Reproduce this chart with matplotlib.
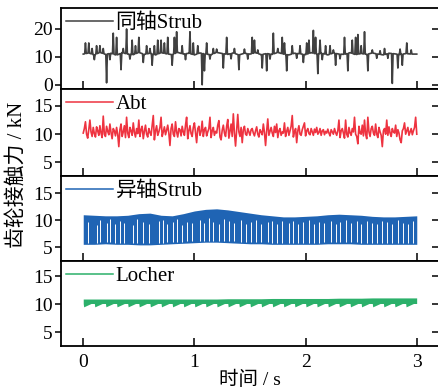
import numpy as np
import matplotlib
matplotlib.use('Agg')
import matplotlib.pyplot as plt
from matplotlib.lines import Line2D

plt.rcParams['font.family'] = ['Liberation Serif', 'Noto Sans CJK SC']
plt.rcParams['axes.unicode_minus'] = False

# ---------------- data ----------------
series_names = ['同轴Strub', 'Abt', '异轴Strub', 'Locher']
x_ticks = [0, 1, 2, 3]
x_label = '时间 / s'
y_label = '齿轮接触力 / kN'

# 同轴Strub: slow baseline (0.05 s step) plus isolated impact spikes
coax_base_t = np.round(np.arange(0, 61) * 0.05, 2)
coax_base = [
    11.0, 11.4, 10.7, 11.6, 10.9, 11.3, 10.6, 11.5, 11.0, 10.8,
    11.6, 10.9, 11.3, 10.7, 11.5, 11.1, 10.8, 11.6, 11.0, 11.3,
    10.7, 11.4, 11.0, 10.8, 11.6, 11.2, 10.9, 11.4, 10.7, 11.3,
    11.0, 11.5, 10.8, 11.2, 10.9, 11.6, 11.0, 10.7, 11.3, 11.1,
    10.8, 11.5, 11.0, 11.3, 10.7, 11.4, 11.0, 10.9, 11.5, 10.8,
    11.2, 10.9, 11.4, 11.0, 10.7, 11.3, 11.1, 10.8, 11.2, 11.0,
    11.0,
]
coax_spike_t = [
    0.02, 0.05, 0.08, 0.10, 0.12, 0.15, 0.18, 0.21, 0.24, 0.27,
    0.30, 0.34, 0.36, 0.39, 0.42, 0.44, 0.47, 0.50, 0.54, 0.57,
    0.60, 0.62, 0.64, 0.67, 0.70, 0.73, 0.76, 0.80, 0.82, 0.84,
    0.89, 0.92, 0.96, 0.99, 1.03, 1.07, 1.09, 1.11, 1.14, 1.17,
    1.20, 1.26, 1.29, 1.33, 1.36, 1.40, 1.45, 1.48, 1.52, 1.54,
    1.57, 1.61, 1.65, 1.68, 1.71, 1.75, 1.79, 1.81, 1.83, 1.88,
    1.92, 1.95, 1.98, 2.01, 2.03, 2.07, 2.09, 2.11, 2.13, 2.15,
    2.18, 2.22, 2.25, 2.27, 2.31, 2.35, 2.38, 2.42, 2.45, 2.47,
    2.50, 2.53, 2.56, 2.60, 2.64, 2.67, 2.71, 2.74, 2.78, 2.83,
    2.85, 2.87, 2.91, 2.95,
]
coax_spike_v = [
    15.0, 15.0, 13.0, 9.0, 14.0, 14.0, 13.0, 0.7, 9.0, 18.5,
    17.0, 5.4, 13.0, 20.0, 9.2, 16.0, 14.0, 17.0, 8.0, 14.0,
    13.0, 7.0, 14.0, 16.0, 16.0, 15.0, 17.0, 7.0, 17.0, 19.0,
    14.0, 9.0, 19.0, 15.0, 14.0, 0.0, 5.0, 15.0, 9.2, 13.0,
    12.8, 6.0, 17.0, 9.3, 13.0, 5.4, 12.8, 9.2, 17.0, 16.0,
    12.5, 6.0, 5.0, 9.2, 18.5, 13.0, 17.0, 15.0, 5.0, 14.0,
    9.5, 14.0, 8.0, 15.0, 16.0, 19.5, 17.0, 4.0, 16.0, 9.0,
    14.0, 14.0, 12.5, 7.0, 9.3, 17.0, 5.0, 16.0, 17.0, 18.0,
    14.0, 19.0, 5.0, 12.5, 9.5, 12.2, 13.0, 9.5, 0.5, 6.0,
    12.8, 7.0, 15.0, 12.5,
]

# Abt: 0.01 s samples
abt_t = np.round(np.arange(0, 301) * 0.01, 2)
abt = [
    10.2, 11.0, 12.2, 10.0, 9.3, 10.8, 12.5, 10.4, 9.6, 11.2,
    10.1, 9.5, 11.3, 10.6, 9.8, 11.5, 10.2, 9.4, 13.2, 10.0,
    9.6, 11.4, 10.5, 9.9, 11.8, 10.3, 9.2, 11.0, 10.6, 9.7,
    11.2, 10.0, 7.8, 10.8, 11.8, 9.6, 10.4, 11.5, 9.4, 13.0,
    10.2, 9.4, 11.2, 10.6, 9.8, 12.0, 10.3, 9.5, 11.0, 10.1,
    12.5, 9.6, 10.8, 11.4, 9.2, 10.5, 11.6, 10.0, 9.5, 11.0,
    10.3, 9.8, 11.5, 13.3, 9.0, 10.6, 11.5, 9.8, 10.4, 11.2,
    13.0, 9.6, 10.4, 11.3, 9.9, 10.7, 11.6, 10.2, 8.0, 11.0,
    11.8, 10.0, 9.6, 12.2, 10.4, 9.5, 11.0, 10.8, 9.7, 11.4,
    10.4, 9.8, 11.6, 13.0, 9.2, 10.6, 11.5, 10.1, 9.6, 11.2,
    12.0, 10.3, 8.5, 11.0, 11.4, 9.8, 10.5, 12.3, 9.6, 10.8,
    11.2, 9.7, 10.4, 11.0, 13.0, 9.4, 10.6, 11.2, 9.8, 10.5,
    10.2, 11.6, 12.4, 9.5, 9.0, 10.7, 11.6, 10.2, 9.6, 11.4,
    12.6, 9.3, 10.5, 11.8, 9.6, 13.6, 10.2, 7.9, 10.8, 13.5,
    10.4, 9.6, 11.2, 8.5, 10.8, 11.4, 10.0, 9.8, 11.0, 10.4,
    9.8, 10.8, 11.0, 10.2, 9.7, 10.6, 11.3, 10.0, 9.5, 10.8,
    10.4, 9.9, 11.8, 10.3, 8.0, 10.6, 12.7, 9.8, 10.5, 11.2,
    10.2, 9.6, 11.4, 10.3, 11.8, 9.4, 10.6, 11.0, 9.8, 10.4,
    10.2, 12.0, 9.6, 10.5, 11.2, 9.8, 10.6, 11.4, 13.3, 9.5,
    10.4, 11.0, 8.5, 10.6, 11.5, 10.0, 9.8, 10.8, 11.4, 12.0,
    9.7, 10.6, 11.0, 10.1, 9.9, 11.0, 10.4, 9.8, 10.9, 10.3,
    11.2, 10.0, 10.3, 11.0, 9.8, 10.6, 10.8, 9.9, 10.5, 10.2,
    10.9, 10.2, 9.7, 10.8, 10.4, 10.0, 11.0, 10.3, 9.8, 10.6,
    12.5, 9.4, 10.6, 11.0, 10.2, 9.3, 12.5, 10.0, 9.5, 11.2,
    10.2, 9.8, 11.0, 10.4, 13.0, 10.0, 9.6, 8.3, 11.4, 10.2,
    10.0, 11.6, 9.7, 12.5, 10.0, 9.2, 13.0, 10.4, 9.6, 11.0,
    11.4, 10.2, 9.8, 11.8, 10.0, 9.4, 11.2, 10.4, 9.8, 7.8,
    10.6, 11.0, 10.0, 12.5, 9.8, 11.3, 10.2, 9.6, 11.0, 10.4,
    10.2, 11.6, 9.6, 10.8, 10.2, 9.0, 8.5, 10.6, 11.0, 12.0,
    10.0, 10.6, 11.2, 9.8, 10.4, 11.0, 9.9, 10.6, 11.2, 13.0,
    10.0,
]

# 异轴Strub: envelope of the dense mesh oscillation (0.1 s step)
strub_off_t = [0.0, 0.1, 0.2, 0.3, 0.4, 0.5, 0.6, 0.7, 0.8, 0.9, 1.0,
               1.1, 1.2, 1.3, 1.4, 1.5, 1.6, 1.7, 1.8, 1.9, 2.0,
               2.1, 2.2, 2.3, 2.4, 2.5, 2.6, 2.7, 2.8, 2.9, 3.0]
strub_off_high = [11.0, 10.9, 10.8, 10.8, 10.9, 11.2, 11.3, 10.9, 10.8, 11.2, 11.7,
                  12.0, 12.1, 11.9, 11.6, 11.3, 11.0, 10.8, 10.6, 10.6, 10.7,
                  10.8, 11.0, 11.1, 11.0, 10.9, 10.7, 10.6, 10.6, 10.7, 10.8]
strub_off_low = [5.5, 5.5, 5.6, 5.5, 5.5, 5.4, 5.4, 5.5, 5.6, 5.7, 5.8,
                 5.9, 5.9, 5.8, 5.7, 5.6, 5.6, 5.5, 5.5, 5.5, 5.5,
                 5.5, 5.6, 5.6, 5.6, 5.5, 5.5, 5.5, 5.5, 5.5, 5.5]
# instants where the oscillation stays high (white streaks in the band)
strub_off_gap_t = [0.04, 0.12, 0.15, 0.21, 0.24, 0.29, 0.33, 0.37, 0.45, 0.48,
                   0.54, 0.59, 0.68, 0.72, 0.75, 0.81, 0.84, 0.89, 0.93, 0.98,
                   1.05, 1.09, 1.13, 1.17, 1.22, 1.27, 1.31, 1.36, 1.42, 1.46,
                   1.51, 1.55, 1.60, 1.66, 1.70, 1.74, 1.79, 1.85, 1.89, 1.93,
                   1.98, 2.03, 2.08, 2.12, 2.17, 2.23, 2.27, 2.31, 2.36, 2.41,
                   2.46, 2.50, 2.55, 2.60, 2.64, 2.69, 2.73, 2.78, 2.83, 2.88,
                   2.92, 2.97]
strub_off_gap_top = [9.6, 9.0, 10.0, 9.4, 10.2, 9.2, 9.8, 9.5, 9.0, 10.3,
                     9.6, 9.2, 9.8, 10.0, 9.3, 9.6, 10.2, 9.0, 9.7, 9.4,
                     10.0, 9.5, 10.4, 9.6, 9.2, 10.2, 9.8, 9.4, 10.0, 9.3,
                     9.7, 10.1, 9.2, 9.6, 9.9, 9.3, 9.8, 9.4, 9.9, 9.2,
                     9.6, 10.0, 9.3, 9.7, 9.5, 9.9, 9.2, 9.6, 10.0, 9.4,
                     9.8, 9.3, 9.9, 9.5, 9.2, 9.8, 9.6, 9.3, 10.0, 9.5,
                     9.2, 9.8]

# Locher: saw-tooth load, one tooth every ~0.1 s
locher_tooth_t = [0.0, 0.1, 0.2, 0.3, 0.4, 0.5, 0.6, 0.7, 0.8, 0.9,
                  1.0, 1.1, 1.2, 1.3, 1.4, 1.5, 1.6, 1.7, 1.8, 1.9,
                  2.0, 2.1, 2.2, 2.3, 2.4, 2.5, 2.6, 2.7, 2.8, 2.9, 3.0]
locher_high = [10.9, 10.9, 10.9, 10.9, 10.9, 10.9, 10.9, 10.9, 10.9, 10.9,
               10.9, 10.9, 10.9, 10.95, 10.95, 10.95, 10.95, 11.0, 11.0, 11.0,
               11.0, 11.0, 11.0, 11.05, 11.05, 11.05, 11.1, 11.1, 11.1, 11.1, 11.1]
locher_band_low = [10.1] * 31
locher_notch = [9.5] * 31
locher_ramp = 0.07

colors = ['#404040', '#ee3340', '#1f64b4', '#2bb06a']

# ---------------- figure ----------------
W, H = 438, 392
fig = plt.figure(figsize=(W / 100, H / 100), dpi=100)

panels_px = [(8, 89), (89, 176), (176, 261), (261, 346)]
left_px, right_px = 61, 439
ylims = [(-1.5, 27.5), (2.6, 18.0), (2.4, 18.2), (2.5, 17.7)]
yticks = [[0, 10, 20], [5, 10, 15], [5, 10, 15], [5, 10, 15]]

axes = []
for top, bot in panels_px:
    ax = fig.add_axes([left_px / W, 1 - bot / H, (right_px - left_px) / W, (bot - top) / H])
    axes.append(ax)

# 同轴Strub: merge baseline and spikes
half = 0.007
keep = [all(abs(tb - ts) > half * 1.2 for ts in coax_spike_t) for tb in coax_base_t]
pts = [(tb, vb) for tb, vb, k in zip(coax_base_t, coax_base, keep) if k]
for ts, vs in zip(coax_spike_t, coax_spike_v):
    for tt in (ts - half, ts + half):
        pts.append((tt, float(np.interp(tt, coax_base_t, coax_base))))
    pts.append((ts, vs))
pts.sort()
axes[0].plot([p[0] for p in pts], [p[1] for p in pts], color=colors[0], lw=1.2)

axes[1].plot(abt_t, abt, color=colors[1], lw=1.2)

axes[2].fill_between(strub_off_t, strub_off_low, strub_off_high, color=colors[2], lw=0)
axes[2].vlines(strub_off_gap_t, np.interp(strub_off_gap_t, strub_off_t, strub_off_low) + 0.3,
               strub_off_gap_top, colors='white', lw=0.7)

# Locher polygon
lt, ll, lh = [], [], []
for k in range(len(locher_tooth_t) - 1):
    t0 = locher_tooth_t[k]
    t1 = locher_tooth_t[k + 1]
    tk = [t0, t0 + 0.004, t0 + locher_ramp, t1 - 0.001]
    lt += tk
    ll += [locher_band_low[k], locher_notch[k], locher_band_low[k], locher_band_low[k]]
    lh += list(np.interp(tk, locher_tooth_t, locher_high))
axes[3].fill_between(lt, ll, lh, color=colors[3], lw=0)

for i, ax in enumerate(axes):
    top, bot = panels_px[i]
    ax.set_xlim(-0.2, 3.2)
    ax.set_ylim(*ylims[i])
    ax.set_xticks(x_ticks)
    ax.set_yticks(yticks[i])
    for s in ax.spines.values():
        s.set_linewidth(1.3)
    ax.spines['right'].set_visible(False)
    ax.tick_params(axis='x', direction='in', length=6, width=1.1, bottom=True, top=False,
                   labelbottom=(i == 3), labelsize=14, pad=6)
    ax.tick_params(axis='y', direction='out', length=4, width=1.1, left=True, right=False,
                   labelsize=14, pad=2)
    sec = ax.secondary_yaxis('right')
    sec.set_yticks(yticks[i])
    sec.tick_params(direction='in', length=5, width=1.1, labelright=False)
    sec.spines['right'].set_linewidth(1.3)
    handle = Line2D([], [], color=colors[i], lw=1.1)
    ax.legend([handle], [series_names[i]], loc='upper left',
              bbox_to_anchor=(65.5 / W, 1 - (top + 5.5) / H), bbox_transform=fig.transFigure,
              borderaxespad=0, borderpad=0,
              handlelength=2.3, handletextpad=0.1, frameon=False, fontsize=15)

fig.text(17 / W, 1 - 175 / H, y_label, rotation=90, ha='center', va='center', fontsize=15)
fig.text(250 / W, 1 - 380 / H, x_label, ha='center', va='center', fontsize=14)

fig.savefig('out.png', dpi=100)
